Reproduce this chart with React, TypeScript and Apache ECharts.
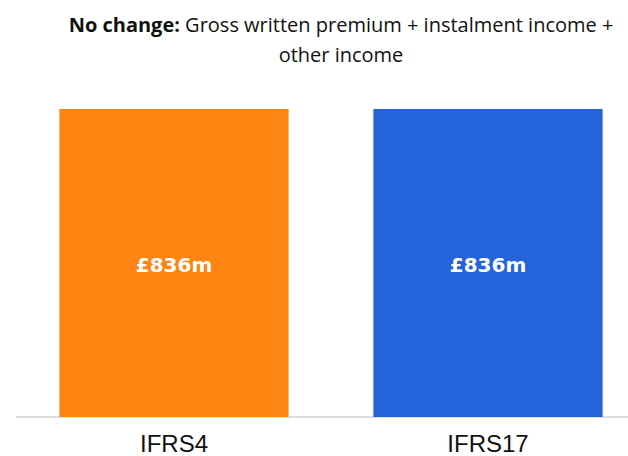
import React, { useEffect, useRef } from "react";
import * as echarts from "echarts";

const categories = ["IFRS4", "IFRS17"];
const values = [836, 836];
const valueLabels = ["£836m", "£836m"];
const barColors = ["#FF8512", "#2563DB"];

export default function App() {
  const ref = useRef<HTMLDivElement>(null);
  useEffect(() => {
    if (!ref.current) return;
    const chart = echarts.init(ref.current, null, { renderer: "svg" });
    chart.setOption({
      animation: false,
      title: {
        text: "{b|No change:} Gross written premium + instalment income +\nother income",
        left: 336,
        top: 4,
        textAlign: "center",
        textStyle: {
          fontFamily: "Open Sans",
          fontSize: 20,
          fontWeight: "normal",
          color: "#111111",
          lineHeight: 30,
          align: "center",
          rich: {
            b: { fontFamily: "Open Sans", fontSize: 20, fontWeight: "bold", color: "#111111", lineHeight: 30 },
          },
        },
      },
      grid: { left: 17, width: 628, top: 109, bottom: 39, containLabel: false },
      xAxis: {
        type: "category",
        data: categories,
        axisLine: { show: true, lineStyle: { color: "#dddddd", width: 2 } },
        axisTick: { show: false },
        axisLabel: {
          color: "#111111",
          fontFamily: "Liberation Sans, Arial",
          fontSize: 24,
          margin: 14,
        },
      },
      yAxis: {
        type: "value",
        min: 0,
        max: 836,
        show: false,
        splitLine: { show: false },
      },
      series: [
        {
          type: "bar",
          barWidth: "73%",
          data: values.map((v, i) => ({ value: v, itemStyle: { color: barColors[i] } })),
          label: {
            show: true,
            position: "inside",
            offset: [0, 2],
            formatter: (p: any) => valueLabels[p.dataIndex],
            color: "#ffffff",
            fontFamily: "DejaVu Sans",
            fontWeight: "bold",
            fontSize: 20,
          },
        },
      ],
    });
    return () => chart.dispose();
  }, []);
  return (
    <div style={{ width: 628, height: 456, position: "absolute", left: 0, top: 0, overflow: "hidden" }}>
      <div ref={ref} style={{ width: 680, height: 456, position: "absolute", left: 0, top: 0 }} />
    </div>
  );
}
